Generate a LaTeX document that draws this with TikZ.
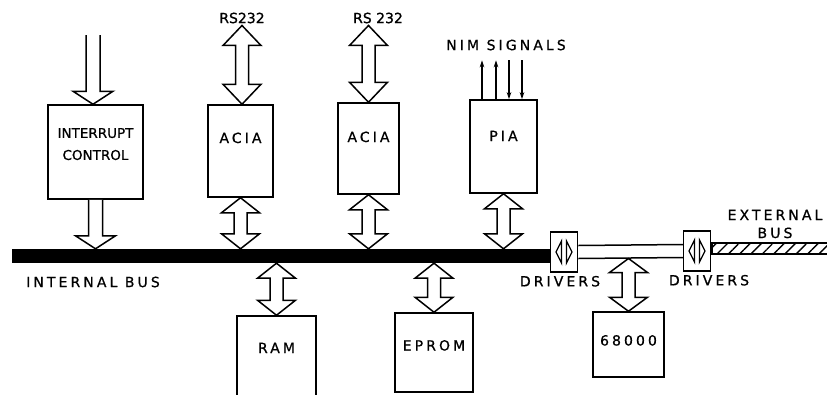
\documentclass[tikz,border=0pt]{standalone}
\usepackage{fontspec}
\setmainfont[FakeBold=0.8]{DejaVu Sans}
\newfontfamily\widefont[LetterSpace=22,FakeBold=0.8]{DejaVu Sans}
\usepackage{tikz}
\usetikzlibrary{arrows.meta,positioning,calc,patterns.meta}

% hollow bus arrows, drawn between two points
\newcommand\fatdown[3][13pt]{%
  \draw[fat] let \p1=(#2), \p2=(#3) in
    (\x1-7pt,\y1) -- (\x1-7pt,\y2+#1) -- (\x1-20pt,\y2+#1) -- (\x1,\y2)
    -- (\x1+20pt,\y2+#1) -- (\x1+7pt,\y2+#1) -- (\x1+7pt,\y1);}
\newcommand\fatboth[3][15pt]{%
  \draw[fat] let \p1=(#2), \p2=(#3) in
    (\x1,\y1) -- (\x1+19pt,\y1-#1) -- (\x1+6.5pt,\y1-#1) -- (\x1+6.5pt,\y2+#1)
    -- (\x1+19pt,\y2+#1) -- (\x1,\y2) -- (\x1-19pt,\y2+#1) -- (\x1-6.5pt,\y2+#1)
    -- (\x1-6.5pt,\y1-#1) -- (\x1-19pt,\y1-#1) -- cycle;}

\begin{document}
\begin{tikzpicture}[x=1pt,y=-1pt,
  box/.style={rectangle,draw,line width=1.5pt,inner sep=0pt,font=\widefont\fontsize{14}{16}\selectfont},
  raise/.style={text height=10pt,text depth=#1},
  lbl/.style={font=\widefont\fontsize{14}{16}\selectfont,inner sep=2pt},
  tight/.style={font=\fontsize{14}{16}\selectfont,inner sep=2pt},
  drvbox/.style={rectangle,draw,line width=1.5pt,minimum width=27pt,minimum height=40pt,inner sep=0pt},
  drvmark/.style={draw,line width=1.3pt,line join=miter},
  fat/.style={draw,line width=1.5pt,fill=white,line join=miter},
  sig/.style={line width=1.5pt,>={Stealth[length=7pt,width=4.5pt]}}
]
\useasboundingbox (0,0) rectangle (827,394);

% buses and drivers
\node[fill=black,inner sep=0pt,minimum width=539pt,minimum height=14pt,anchor=west] (ibus) at (12,256) {};
\node[drvbox] (drvA) at (564,252) {};
\node[drvbox] (drvB) at (697,251) {};
\node[draw,line width=1.3pt,pattern={Lines[angle=45,distance=8pt,line width=1.4pt]},
  minimum width=125pt,minimum height=11pt,inner sep=0pt,anchor=west] (xbus) at ([yshift=2.5pt]drvB.east) {};
\draw[line width=1.5pt] ([yshift=6.5pt]drvA.east) -- ([yshift=6.5pt]drvB.west)
  ([yshift=-6.5pt]drvA.east) -- ([yshift=-6.5pt]drvB.west);
\coordinate (xlow) at ([yshift=-6.5pt]drvA.east);
\foreach \d in {drvA,drvB}{
  \draw[drvmark] ([shift={(-2.5pt,11pt)}]\d.center) -- ([shift={(-8pt,0pt)}]\d.center) -- ([shift={(-2.5pt,-11pt)}]\d.center) -- cycle;
  \draw[drvmark] ([shift={(2.5pt,11pt)}]\d.center) -- ([shift={(8pt,0pt)}]\d.center) -- ([shift={(2.5pt,-11pt)}]\d.center) -- cycle;
}

% units
\node[box,minimum width=95pt,minimum height=94pt,align=center,font=\fontsize{13.5}{22}\selectfont] (irq) at (95.5,152) {INTERRUPT\\CONTROL\\[-6pt]\mbox{}};
\node[box,minimum width=65pt,minimum height=92pt,raise=26pt] (aciaA) at (240.5,151) {ACIA};
\node[box,minimum width=61pt,minimum height=91pt,raise=23pt] (aciaB) at (368.5,148.5) {ACIA};
\node[box,minimum width=67pt,minimum height=93pt,raise=21pt] (pia) at (503.5,146.5) {PIA};
\node[box,minimum width=79pt,minimum height=82pt,raise=18pt] (ram) at (276.5,357) {RAM};
\node[box,minimum width=78pt,minimum height=79pt,raise=14pt] (eprom) at (434,352.5) {EPROM};
\node[box,minimum width=71pt,minimum height=65pt,raise=8pt] (cpu) at (628.5,344.5) {68000};

% labels
\node[tight,inner sep=2pt] (rsA) at (242,18) {RS232};
\node[tight,inner sep=2pt] (rsB) at (378,18) {RS 232};
\node[lbl] (nim) at (506,45) {NIM SIGNALS};
\node[lbl] (ibuslbl) at (93,282) {INTERNAL BUS};
\node[lbl,below=1pt of drvA,xshift=-4pt] (drvAlbl) {DRIVERS};
\node[lbl,below=1pt of drvB,xshift=12pt] (drvBlbl) {DRIVERS};
\node[lbl,align=center,font=\widefont\fontsize{14}{18}\selectfont] (xbuslbl) at (775,224) {EXTERNAL\\BUS};

% connections
\coordinate (irqin) at (93,35);
\fatdown{irqin}{irq.north}
\fatdown{irq.south}{irq.south |- ibus.north}
\fatboth[20pt]{rsA.south}{aciaA.north}
\fatboth[20pt]{aciaB.north |- rsB.south}{aciaB.north}
\fatboth{aciaA.south}{aciaA.south |- ibus.north}
\fatboth{aciaB.south}{aciaB.south |- ibus.north}
\fatboth{pia.south}{pia.south |- ibus.north}
\fatboth{ram.north |- ibus.south}{ram.north}
\fatboth{eprom.north |- ibus.south}{eprom.north}
\fatboth[14pt]{cpu.north |- xlow}{cpu.north}
\foreach \dx/\dir in {-21.5/->,-7.5/->,5.5/<-,18.5/<-}
  \draw[sig,\dir] ([xshift=\dx pt]pia.north) -- ++(0,-39);
\end{tikzpicture}
\end{document}
